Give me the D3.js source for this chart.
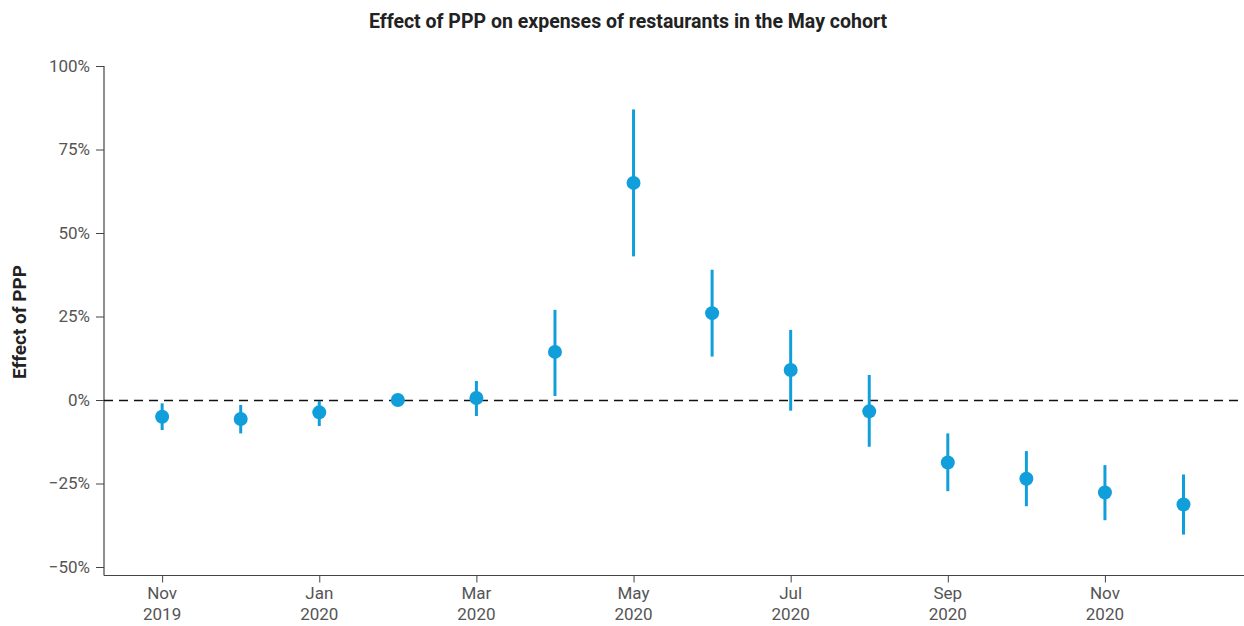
<!DOCTYPE html>
<html>
<head>
<meta charset="utf-8">
<script src="https://cdn.jsdelivr.net/npm/d3@7"></script>
<style>
  body { margin: 0; background: #fff; }
  svg text { font-family: Roboto, "Open Sans", sans-serif; }
</style>
</head>
<body>
<div id="main"></div>
<script>
let w = 1244;
let h = 626;

// months Nov 2019 .. Dec 2020
let months = ["Nov", "Dec", "Jan", "Feb", "Mar", "Apr", "May", "Jun", "Jul", "Aug", "Sep", "Oct", "Nov", "Dec"];
let years = [2019, 2019, 2020, 2020, 2020, 2020, 2020, 2020, 2020, 2020, 2020, 2020, 2020, 2020];
let effect = [-5, -5.7, -3.7, 0, 0.6, 14.4, 65, 26, 9, -3.4, -18.7, -23.6, -27.7, -31.3];
let upper  = [-1, -1.5, -0.3, 0, 5.7, 27, 87, 39, 21, 7.5, -10, -15.3, -19.5, -22.3];
let lower  = [-9, -10, -7.8, 0, -4.8, 1.2, 43, 13, -3.2, -14, -27.3, -31.8, -36, -40.3];
let yTicks = [100, 75, 50, 25, 0, -25, -50];

let dataset = months.map((m, i) => ({i: i, month: m, year: years[i], v: effect[i], hi: upper[i], lo: lower[i]}));

let padLeft = 104, padRight = 1244, padBottom = 575.5;
let blue = "#119fdb";

let svg = d3.select("#main").append("svg")
  .attr("width", w)
  .attr("height", h);

let xScale = d3.scaleLinear()
  .domain([-0.74, 13.77])
  .range([padLeft, padRight]);

let yScale = d3.scaleLinear()
  .domain([-50, 100])
  .range([567, 66]);

// title
svg.append("text")
  .attr("x", 628)
  .attr("y", 28)
  .attr("text-anchor", "middle")
  .style("font-size", "19.5px")
  .style("font-weight", "bold")
  .style("fill", "#222")
  .text("Effect of PPP on expenses of restaurants in the May cohort");

// y label
svg.append("text")
  .attr("transform", "translate(26,322) rotate(-90)")
  .attr("text-anchor", "middle")
  .style("font-size", "19px")
  .style("font-weight", "bold")
  .style("fill", "#222")
  .text("Effect of PPP");

// y axis
let yAxis = d3.axisLeft(yScale)
  .tickValues(yTicks)
  .tickSize(8)
  .tickPadding(6)
  .tickFormat(d => (d < 0 ? "\u2212" + Math.abs(d) : d) + "%");

let gy = svg.append("g")
  .attr("transform", "translate(" + padLeft + ",0)")
  .call(yAxis);
gy.select(".domain").remove();
gy.selectAll("line").attr("stroke", "#444");
gy.selectAll("text").style("font-size", "17px").style("fill", "#555");

svg.append("line")
  .attr("x1", padLeft).attr("x2", padLeft)
  .attr("y1", yScale(100)).attr("y2", padBottom)
  .attr("stroke", "#444").attr("stroke-width", 1.2);

// x axis
let xAxis = d3.axisBottom(xScale)
  .tickValues(d3.range(0, 14, 2))
  .tickSize(7)
  .tickFormat("");

let gx = svg.append("g")
  .attr("transform", "translate(0," + padBottom + ")")
  .call(xAxis);
gx.select(".domain").remove();
gx.selectAll("line").attr("stroke", "#444");

svg.append("line")
  .attr("x1", padLeft).attr("x2", padRight)
  .attr("y1", padBottom).attr("y2", padBottom)
  .attr("stroke", "#444").attr("stroke-width", 1.2);

let xl = svg.selectAll(".xlab")
  .data(dataset.filter(d => d.i % 2 == 0))
  .enter().append("text")
  .attr("class", "xlab")
  .attr("text-anchor", "middle")
  .style("font-size", "17px")
  .style("fill", "#555")
  .attr("x", d => xScale(d.i))
  .attr("y", 599);
xl.append("tspan").attr("x", d => xScale(d.i)).text(d => d.month);
xl.append("tspan").attr("x", d => xScale(d.i)).attr("dy", 21).text(d => d.year);

// zero line
svg.append("line")
  .attr("x1", padLeft).attr("x2", padRight)
  .attr("y1", yScale(0) + 0.5).attr("y2", yScale(0) + 0.5)
  .attr("stroke", "#111")
  .attr("stroke-width", 1.3)
  .attr("stroke-dasharray", "9,6");

// error bars
svg.selectAll(".err")
  .data(dataset)
  .enter().append("line")
  .attr("class", "err")
  .attr("x1", d => xScale(d.i)).attr("x2", d => xScale(d.i))
  .attr("y1", d => yScale(d.hi)).attr("y2", d => yScale(d.lo))
  .attr("stroke", blue)
  .attr("stroke-width", 3);

// points
svg.selectAll(".pt")
  .data(dataset)
  .enter().append("circle")
  .attr("class", "pt")
  .attr("cx", d => xScale(d.i))
  .attr("cy", d => yScale(d.v))
  .attr("r", 7)
  .attr("fill", blue);
</script>
</body>
</html>
